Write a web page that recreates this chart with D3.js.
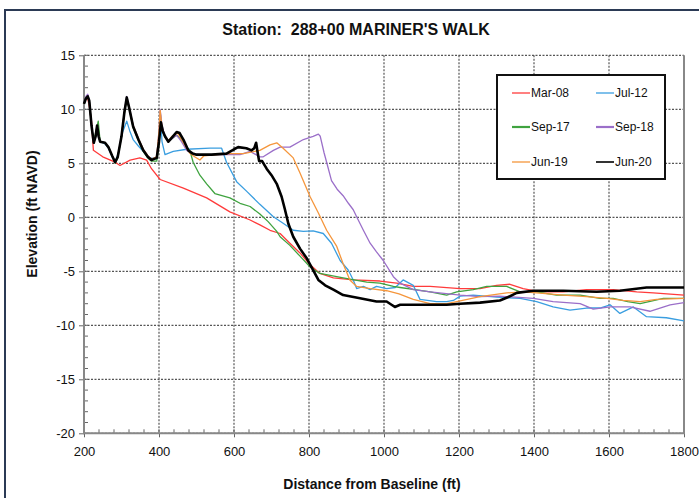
<!DOCTYPE html>
<html><head><meta charset="utf-8">
<script src="https://cdn.jsdelivr.net/npm/d3@7"></script>
<style>body{margin:0;background:#fff;}svg{display:block;font-family:"Liberation Sans",Arial,sans-serif;}</style>
</head><body>
<svg id="chart" width="699" height="498"></svg>
<script>
const title = "Station:  288+00 MARINER'S WALK";
const xLabel = "Distance from Baseline (ft)";
const yLabel = "Elevation (ft NAVD)";
const xTicks = [200,400,600,800,1000,1200,1400,1600,1800];
const yTicks = [15,10,5,0,-5,-10,-15,-20];
const seriesNames = ["Mar-08","Jul-12","Sep-17","Sep-18","Jun-19","Jun-20"];
const seriesColors = ["#ff3b3b","#3a9ee0","#3fa33f","#9b6fc9","#f5963c","#000000"];

const mar08 = [[200,10.5],[205,11.0],[210,11.0],[214,10.3],[220,8.9],[225,6.2],[250,5.6],[283,5.1],[296,4.8],[323,5.3],[349,5.5],[367,5.3],[380,4.5],[403,3.5],[465,2.7],[527,1.8],[589,0.5],[643,-0.25],[669,-0.7],[696,-1.2],[723,-1.5],[749,-2.4],[776,-3.3],[803,-4.4],[829,-5.2],[865,-5.6],[918,-5.8],[989,-5.9],[1034,-6.1],[1078,-6.4],[1123,-6.4],[1203,-6.6],[1256,-6.6],[1300,-6.3],[1336,-6.2],[1371,-6.6],[1416,-6.9],[1478,-6.9],[1540,-6.7],[1611,-6.7],[1674,-6.9],[1718,-7.0],[1800,-7.2]];
const jul12 = [[200,10.5],[205,11.0],[210,11.2],[214,10.8],[220,8.5],[226,6.9],[231,7.5],[235,8.3],[239,7.4],[243,7.0],[256,6.8],[265,6.4],[275,5.6],[283,5.1],[292,6.0],[302,7.8],[314,8.9],[322,8.0],[331,7.2],[345,6.6],[358,6.1],[376,5.5],[394,5.4],[400,7.5],[404,9.5],[408,7.0],[416,5.8],[438,6.1],[474,6.3],[536,6.4],[567,6.4],[580,5.1],[607,3.3],[634,2.4],[669,1.2],[705,0.05],[731,-0.55],[758,-1.2],[785,-1.3],[811,-1.25],[838,-1.5],[860,-2.4],[883,-4.0],[905,-4.9],[918,-5.8],[927,-6.6],[945,-6.4],[963,-6.7],[980,-6.4],[1007,-6.6],[1030,-6.5],[1051,-5.8],[1078,-6.3],[1096,-7.6],[1140,-7.8],[1167,-7.8],[1185,-7.7],[1203,-7.3],[1238,-7.2],[1300,-7.4],[1363,-7.5],[1407,-7.8],[1451,-8.3],[1496,-8.6],[1540,-8.4],[1576,-8.4],[1603,-8.1],[1629,-8.9],[1665,-8.3],[1700,-9.2],[1753,-9.3],[1800,-9.6]];
const sep17 = [[200,10.5],[205,11.0],[210,11.2],[214,10.8],[220,8.5],[226,6.9],[232,8.0],[238,8.9],[243,7.0],[256,6.9],[265,6.5],[275,5.7],[283,5.0],[290,5.5],[300,7.5],[308,9.7],[314,11.0],[320,10.1],[331,8.3],[345,7.1],[358,6.1],[370,5.5],[380,5.2],[394,5.2],[400,6.8],[405,8.8],[410,7.9],[416,7.4],[425,7.0],[435,7.3],[447,7.6],[460,7.2],[472,6.6],[483,6.1],[491,5.1],[509,3.9],[527,3.1],[549,2.2],[589,1.8],[616,1.3],[643,1.0],[669,0.3],[691,-0.4],[714,-1.3],[723,-1.8],[749,-2.6],[776,-3.6],[803,-4.6],[829,-5.2],[860,-5.4],[891,-5.6],[954,-6.0],[989,-6.1],[1025,-6.4],[1043,-6.5],[1083,-6.7],[1123,-6.9],[1167,-7.2],[1194,-6.9],[1238,-6.7],[1274,-6.4],[1327,-6.4],[1363,-6.9],[1407,-6.9],[1460,-7.2],[1523,-7.2],[1576,-7.5],[1611,-7.5],[1650,-7.8],[1683,-8.0],[1745,-7.5],[1800,-7.5]];
const sep18 = [[200,10.6],[205,11.2],[210,11.4],[214,10.8],[220,8.5],[226,6.9],[231,7.5],[235,8.5],[239,7.5],[243,7.0],[256,6.9],[265,6.5],[275,5.7],[283,5.1],[290,5.6],[300,7.6],[308,9.9],[314,11.2],[320,10.3],[331,8.5],[345,7.3],[358,6.3],[370,5.7],[380,5.4],[394,5.6],[400,8.0],[403,10.0],[408,8.5],[416,7.5],[425,7.0],[435,7.3],[447,7.6],[460,7.0],[474,6.2],[490,5.9],[509,5.8],[571,5.8],[616,5.8],[643,6.1],[669,5.6],[678,5.6],[705,6.2],[723,6.5],[749,6.5],[785,7.2],[811,7.5],[825,7.7],[830,7.5],[840,6.0],[847,5.1],[860,3.4],[875,2.6],[891,2.0],[905,1.3],[918,0.7],[927,0.05],[945,-1.2],[963,-2.4],[980,-3.2],[998,-4.0],[1025,-5.5],[1043,-6.1],[1078,-6.7],[1123,-6.9],[1203,-7.2],[1256,-7.35],[1309,-7.3],[1350,-7.4],[1398,-7.5],[1451,-7.8],[1523,-8.0],[1558,-8.5],[1603,-8.3],[1656,-8.3],[1709,-8.7],[1763,-8.1],[1800,-7.9]];
const jun19 = [[200,10.5],[205,11.0],[210,11.2],[214,10.8],[220,8.5],[226,6.9],[231,7.5],[235,8.5],[239,7.5],[243,7.0],[256,6.9],[265,6.5],[275,5.7],[283,5.1],[290,5.6],[300,7.5],[308,9.8],[314,11.0],[320,10.2],[331,8.5],[345,7.3],[358,6.3],[370,5.7],[380,5.4],[394,5.6],[400,8.0],[403,9.9],[408,8.3],[416,7.4],[425,7.1],[435,7.5],[450,7.8],[460,7.2],[474,6.4],[483,5.9],[495,5.6],[509,5.3],[520,5.7],[554,5.8],[589,5.9],[625,5.9],[669,6.2],[696,6.7],[714,6.9],[731,6.4],[758,5.5],[776,4.1],[803,1.9],[825,0.4],[847,-1.2],[874,-2.7],[891,-4.3],[909,-5.8],[927,-6.4],[963,-6.6],[1007,-6.8],[1040,-7.1],[1078,-7.6],[1123,-8.0],[1167,-8.0],[1194,-7.8],[1256,-7.35],[1327,-7.0],[1371,-6.9],[1407,-7.0],[1478,-7.2],[1540,-7.35],[1594,-7.5],[1638,-7.7],[1683,-7.8],[1727,-7.6],[1800,-7.5]];
const jun20 = [[200,10.5],[205,11.0],[210,11.2],[214,10.8],[220,8.5],[226,6.9],[231,7.5],[235,8.5],[239,7.5],[243,7.0],[256,6.9],[265,6.5],[275,5.7],[283,5.1],[290,5.6],[300,7.5],[308,9.8],[314,11.1],[320,10.2],[331,8.4],[345,7.2],[358,6.2],[370,5.6],[380,5.3],[394,5.5],[400,7.0],[405,8.8],[410,8.0],[416,7.5],[425,7.0],[435,7.4],[447,7.9],[455,7.8],[465,7.2],[478,6.2],[490,5.9],[500,5.8],[540,5.8],[580,5.9],[600,6.3],[611,6.5],[633,6.4],[647,6.2],[654,6.4],[659,6.9],[663,6.0],[667,5.2],[675,5.2],[687,4.5],[700,3.9],[714,3.1],[727,1.9],[736,0.7],[745,-0.6],[758,-1.8],[776,-2.9],[794,-3.8],[811,-4.9],[825,-5.8],[843,-6.3],[865,-6.7],[891,-7.2],[936,-7.5],[980,-7.8],[1007,-7.8],[1020,-8.1],[1029,-8.3],[1043,-8.1],[1078,-8.1],[1123,-8.1],[1167,-8.1],[1203,-8.0],[1256,-7.9],[1309,-7.7],[1330,-7.4],[1354,-7.0],[1398,-6.8],[1478,-6.8],[1567,-6.9],[1629,-6.8],[1700,-6.5],[1800,-6.5]];
const seriesData = [mar08, jul12, sep17, sep18, jun19, jun20];

const svg = d3.select("#chart");
const L = 84, R = 684, T = 55.3, B = 433.3;
const x = d3.scaleLinear().domain([200,1800]).range([L,R]);
const y = d3.scaleLinear().domain([-20,15]).range([B,T]);

// outer frame
svg.append("rect").attr("x",5).attr("y",10).attr("width",720).attr("height",520)
  .attr("fill","#fff").attr("stroke","#2b3a55").attr("stroke-width",2);

// title
svg.append("text").attr("x",356).attr("y",35).attr("text-anchor","middle")
  .style("white-space","pre")
  .attr("font-size",16).attr("font-weight","bold").attr("fill","#111").text(title);

// gridlines
const grid = svg.append("g");
grid.selectAll("line.h").data(yTicks).join("line")
  .attr("x1",L).attr("x2",R).attr("y1",d=>y(d)).attr("y2",d=>y(d))
  .attr("stroke","#555").attr("stroke-width",1.3).attr("stroke-dasharray","2,1.5");
grid.selectAll("line.v").data(xTicks.slice(1,-1)).join("line")
  .attr("x1",d=>x(d)).attr("x2",d=>x(d)).attr("y1",T).attr("y2",B)
  .attr("stroke","#555").attr("stroke-width",1.2).attr("stroke-dasharray","2,1.5");

// axes
const fmt = d => String(d);
const yAxis = d3.axisLeft(y).tickValues(yTicks).tickFormat(fmt).tickSize(5).tickPadding(4);
const gy = svg.append("g").attr("transform",`translate(${L},0)`).call(yAxis);
const xAxis = d3.axisBottom(x).tickValues(xTicks).tickFormat(fmt).tickSize(4).tickPadding(9);
const gx = svg.append("g").attr("transform",`translate(0,${B})`).call(xAxis);
[gx,gy].forEach(g=>{
  g.select(".domain").remove();
  g.selectAll(".tick line").attr("stroke","#666");
  g.selectAll(".tick text").attr("font-size",13).attr("fill","#111")
    .attr("font-family","'Liberation Sans',Arial,sans-serif");
});
// minor ticks
const yMinor = d3.range(-20,15.01,1);
svg.append("g").selectAll("line").data(yMinor).join("line")
  .attr("x1",L).attr("x2",L+4).attr("y1",d=>y(d)).attr("y2",d=>y(d)).attr("stroke","#666");
const xMinor = d3.range(200,1800.1,40);
svg.append("g").selectAll("line").data(xMinor).join("line")
  .attr("x1",d=>x(d)).attr("x2",d=>x(d)).attr("y1",B).attr("y2",B-4).attr("stroke","#666");

// plot border
svg.append("path").attr("d",`M${L},${T}V${B}H${R}V${T}`).attr("fill","none")
  .attr("stroke","#888").attr("stroke-width",2);

// lines
const line = d3.line().x(d=>x(d[0])).y(d=>y(d[1])).curve(d3.curveLinear);
const lg = svg.append("g");
seriesData.forEach((data,i)=>{
  lg.append("path").datum(data).attr("d",line).attr("fill","none")
    .attr("stroke",seriesColors[i]).attr("stroke-width", i===5 ? 2.6 : 1.3)
    .attr("stroke-linejoin","round");
});

// legend
const leg = svg.append("g");
leg.append("rect").attr("x",497).attr("y",75).attr("width",168).attr("height",104)
  .attr("fill","#fff").attr("stroke","#111").attr("stroke-width",2);
const legRows = [93,127,162], legCols = [[512,531],[596,615]];
seriesNames.forEach((n,i)=>{
  const r = Math.floor(i/2), c = i%2;
  leg.append("line").attr("x1",legCols[c][0]).attr("x2",legCols[c][0]+18)
    .attr("y1",legRows[r]).attr("y2",legRows[r]).attr("stroke",seriesColors[i])
    .attr("stroke-width", i===5 ? 1.6 : (i===2||i===3?2.2:1.3));
  leg.append("text").attr("x",legCols[c][1]).attr("y",legRows[r]+4)
    .attr("font-size",12).attr("fill","#111").text(n);
});

// axis labels
svg.append("text").attr("x",372).attr("y",489).attr("text-anchor","middle")
  .attr("font-size",14).attr("font-weight","bold").attr("fill","#111").text(xLabel);
svg.append("text").attr("transform","translate(37,214) rotate(-90)").attr("text-anchor","middle")
  .attr("font-size",14).attr("font-weight","bold").attr("fill","#111").text(yLabel);
</script>
</body></html>
